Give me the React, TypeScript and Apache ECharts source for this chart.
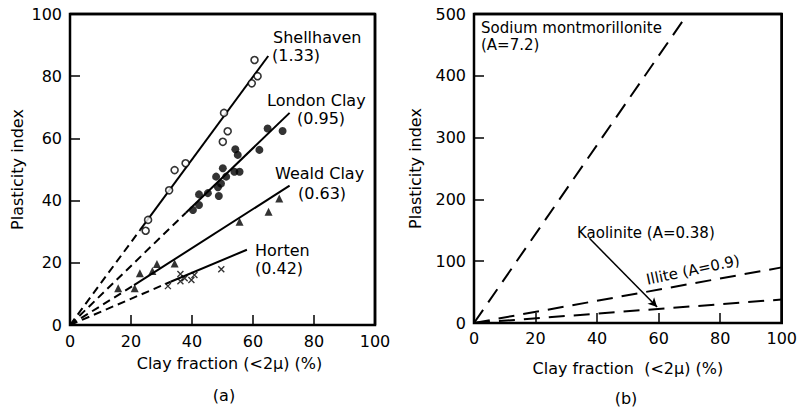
import React, { useEffect, useRef } from "react";
import * as echarts from "echarts";

// ---- Data ----
const xTicks = [0, 20, 40, 60, 80, 100];
const leftYTicks = [0, 20, 40, 60, 80, 100];
const rightYTicks = [0, 100, 200, 300, 400, 500];

// (a) measured points: [clay fraction %, plasticity index]
const shellhavenPts = [
  [24.8, 30.3], [25.6, 33.8], [32.5, 43.3], [34.3, 49.8], [37.9, 52],
  [50.1, 58.9], [51.7, 62.3], [50.5, 68.2], [59.6, 77.7], [61.5, 80], [60.5, 85.2],
];
const londonPts = [
  [40.3, 37], [42.3, 38.6], [42.3, 42], [45.2, 42.4], [48.8, 41.5], [48.5, 44.3],
  [49.5, 45.5], [51.2, 47.7], [47.9, 47.7], [53.9, 49.3], [55.6, 49.3], [50.1, 50.4],
  [55, 54.7], [54.2, 56.5], [62.1, 56.3], [64.8, 63.2], [69.7, 62.4],
];
const wealdPts = [
  [15.8, 11.8], [21.2, 11.8], [22.9, 16.6], [27, 17.4], [28.5, 19.6],
  [34.3, 19.8], [55.6, 33.2], [65.1, 36.4], [68.6, 40.7],
];
const hortenPts = [
  [32.1, 12.5], [36.2, 16.4], [36.2, 14.1], [37.6, 15], [39.8, 14.5],
  [40.8, 16.1], [49.6, 17.9],
];

// (a) activity lines: solid fitted part and dashed extrapolation to origin
const shellSolid = [[23, 30.6], [65, 86.5]];
const shellDash = [[0, 0], [23, 30.6]];
const londonSolid = [[38, 36.1], [72, 68.2]];
const londonDash = [[0, 0], [38, 36.1]];
const wealdSolid = [[21, 12.8], [72, 44.8]];
const wealdDash = [[0, 0], [21, 12.8]];
const hortenSolid = [[33, 13.9], [58, 24.2]];
const hortenDash = [[0, 0], [33, 13.9]];

// (b) clay minerals
const sodiumLine = [[0, 0], [69.4, 500]];
const illiteLine = [[0, 0], [100, 90]];
const kaoliniteLine = [[0, 0], [100, 38]];
const kaoliniteArrow = [[37.5, 137], [59.5, 26]];

// plot frames (top and right edges of each panel)
const frameA = [[0, 100], [100, 100], [100, 0]];
const frameB = [[0, 500], [100, 500], [100, 0]];

const FONT = "DejaVu Sans";
const INK = "#000";

function axisCommon() {
  return {
    axisLine: { show: true, onZero: false, lineStyle: { color: INK, width: 2 } },
    axisTick: { show: true, inside: true, length: 10, lineStyle: { color: INK, width: 1.5 } },
    splitLine: { show: false },
    axisLabel: { color: INK, fontFamily: FONT, fontSize: 16, margin: 8 },
    nameTextStyle: { color: INK, fontFamily: FONT, fontSize: 16 },
  };
}

function lineSeries(data: number[][], type: "solid" | number[], xi: number, width = 2) {
  return {
    type: "line",
    xAxisIndex: xi,
    yAxisIndex: xi,
    data,
    symbol: "none",
    clip: false,
    lineStyle: { color: INK, width, type },
    z: 3,
  };
}

function scatter(data: number[][], symbol: string, size: number, filled: boolean) {
  return {
    type: "scatter",
    xAxisIndex: 0,
    yAxisIndex: 0,
    data,
    symbol,
    symbolSize: size,
    itemStyle: filled
      ? { color: INK, borderColor: INK, borderWidth: 0 }
      : { color: "#fff", borderColor: INK, borderWidth: 1.6 },
    z: 5,
  };
}

function txt(text: string, x: number, y: number, extra: any = {}) {
  return {
    type: "text",
    x,
    y,
    z: 10,
    style: {
      text,
      fill: INK,
      font: `16px "${FONT}"`,
      textAlign: "left",
      textVerticalAlign: "middle",
      ...(extra.style || {}),
    },
    ...(extra.rotation !== undefined ? { rotation: extra.rotation } : {}),
  };
}

export default function App() {
  const ref = useRef<HTMLDivElement>(null);
  useEffect(() => {
    if (!ref.current) return;
    const chart = echarts.init(ref.current, null, { renderer: "svg" });
    const dashA = [8, 5];
    const dashB = [16, 9];
    const option: any = {
      animation: false,
      grid: [
        { left: 70, top: 14, width: 305, height: 311, show: true, borderColor: INK, borderWidth: 2.5 },
        { left: 474, top: 14, width: 309, height: 309, show: true, borderColor: INK, borderWidth: 2.5 },
      ],
      xAxis: [
        {
          ...axisCommon(), type: "value", gridIndex: 0,
          min: xTicks[0], max: xTicks[xTicks.length - 1], interval: 20,
          name: "Clay fraction (<2μ) (%)", nameLocation: "middle", nameGap: 30,
          nameTextStyle: { ...axisCommon().nameTextStyle, padding: [0, 0, 0, 14] },
        },
        {
          ...axisCommon(), type: "value", gridIndex: 1,
          min: xTicks[0], max: xTicks[xTicks.length - 1], interval: 20,
          name: "Clay fraction  (<2μ) (%)", nameLocation: "middle", nameGap: 37,
          axisLabel: { ...axisCommon().axisLabel, margin: 7 },
        },
      ],
      yAxis: [
        {
          ...axisCommon(), type: "value", gridIndex: 0,
          min: leftYTicks[0], max: leftYTicks[leftYTicks.length - 1], interval: 20,
          name: "Plasticity index", nameLocation: "middle", nameGap: 45,
        },
        {
          ...axisCommon(), type: "value", gridIndex: 1,
          min: rightYTicks[0], max: rightYTicks[rightYTicks.length - 1], interval: 100,
          name: "Plasticity index", nameLocation: "middle", nameGap: 51,
        },
      ],
      graphic: [
        txt("Shellhaven", 273, 37),
        txt("(1.33)", 272, 55),
        txt("London Clay", 267, 100),
        txt("(0.95)", 297, 118),
        txt("Weald Clay", 275, 173),
        txt("(0.63)", 298, 193),
        txt("Horten", 255, 250),
        txt("(0.42)", 255, 268),
        txt("Sodium montmorillonite", 481, 28, { style: { font: `15px "${FONT}"` } }),
        txt("(A=7.2)", 481, 45, { style: { font: `15px "${FONT}"` } }),
        txt("Kaolinite (A=0.38)", 577, 233, { style: { font: `15px "${FONT}"` } }),
        txt("Illite (A=0.9)", 693, 270, { rotation: 0.21, style: { font: `15px "${FONT}"`, textAlign: "center" } }),
        txt("(a)", 224, 395, { style: { font: `16px "${FONT}"`, textAlign: "center" } }),
        txt("(b)", 626, 398, { style: { font: `16px "${FONT}"`, textAlign: "center" } }),
      ],
      series: [
        lineSeries(frameA, "solid", 0, 2.5),
        lineSeries(frameB, "solid", 1, 2.5),
        lineSeries(shellSolid, "solid", 0),
        lineSeries(shellDash, dashA, 0),
        lineSeries(londonSolid, "solid", 0),
        lineSeries(londonDash, dashA, 0),
        lineSeries(wealdSolid, "solid", 0),
        lineSeries(wealdDash, dashA, 0),
        lineSeries(hortenSolid, "solid", 0),
        lineSeries(hortenDash, dashA, 0),
        scatter(shellhavenPts, "circle", 7, false),
        scatter(londonPts, "circle", 8, true),
        scatter(wealdPts, "triangle", 8, true),
        {
          type: "scatter",
          xAxisIndex: 0,
          yAxisIndex: 0,
          data: hortenPts,
          symbol: "path://M0,0L10,10M10,0L0,10",
          symbolSize: 6,
          itemStyle: { color: "none", borderColor: INK, borderWidth: 1.4 },
          z: 5,
        },
        lineSeries(sodiumLine, dashB, 1),
        lineSeries(illiteLine, dashB, 1),
        {
          ...lineSeries(kaoliniteLine, dashB, 1),
          markLine: {
            silent: true,
            symbol: ["none", "arrow"],
            symbolSize: [7, 9],
            label: { show: false },
            lineStyle: { color: INK, width: 1.5, type: "solid" },
            data: [[
              { coord: kaoliniteArrow[0] },
              { coord: kaoliniteArrow[1] },
            ]],
          },
        },
      ],
    };
    chart.setOption(option);
    return () => chart.dispose();
  }, []);
  return (
    <div
      ref={ref}
      style={{ position: "fixed", left: 0, top: 0, width: 800, height: 413, background: "#fff" }}
    />
  );
}
